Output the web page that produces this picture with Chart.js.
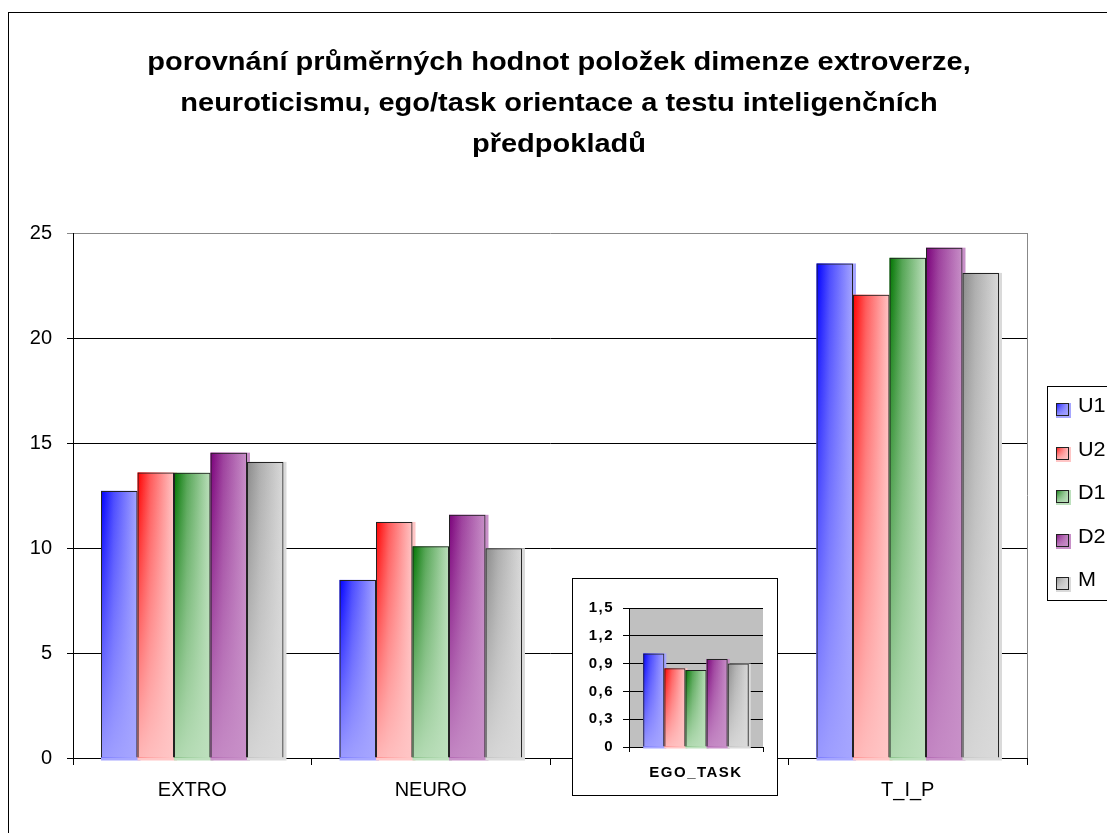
<!DOCTYPE html>
<html>
<head>
<meta charset="utf-8">
<script src="https://cdn.jsdelivr.net/npm/chart.js@4/dist/chart.umd.min.js"></script>
<style>
  body { margin: 0; background: #fff; }
  #wrap { position: relative; width: 1107px; height: 833px; overflow: hidden; background: #fff; }
  #main { position: absolute; left: 0; top: 0; }
  #insetBox { position: absolute; left: 572px; top: 578px; width: 204px; height: 216px; border: 1px solid #000; background: #fff; }
  #inset { position: absolute; left: 0; top: 0; }
</style>
</head>
<body>
<div id="wrap">
  <canvas id="main" width="1107" height="833"></canvas>
  <div id="insetBox"><canvas id="inset" width="204" height="216"></canvas></div>
</div>
<script>
// ---- data ----
const titleLines = [
  'porovnání průměrných hodnot položek dimenze extroverze,',
  'neuroticismu, ego/task orientace a testu inteligenčních',
  'předpokladů'
];
const categories = ['EXTRO', 'NEURO', 'EGO_TASK', 'T_I_P'];
const insetCategory = 'EGO_TASK';
const seriesNames = ['U1', 'U2', 'D1', 'D2', 'M'];
const U1 = [12.72, 8.48, 1.01, 23.55];
const U2 = [13.60, 11.24, 0.85, 22.06];
const D1 = [13.58, 10.08, 0.83, 23.82];
const D2 = [14.54, 11.58, 0.95, 24.30];
const M  = [14.10, 9.99, 0.90, 23.10];
const mainTicks = [0, 5, 10, 15, 20, 25];
const insetTicks = ['0', '0,3', '0,6', '0,9', '1,2', '1,5'];

const seriesValues = [U1, U2, D1, D2, M];
const darkColors  = ['#0000ff', '#ff0000', '#007400', '#7a007a', '#8a8a8a'];
const lightColors = ['#a6a6ff', '#ffc6c6', '#bde0bd', '#c890c8', '#dadada'];
const FONT = '"Liberation Sans", Arial, Helvetica, sans-serif';
const egoIndex = categories.indexOf(insetCategory);

// ---- colour helpers ----
function hexRgb(h) { const n = parseInt(h.slice(1), 16); return [(n >> 16) & 255, (n >> 8) & 255, n & 255]; }
function mix(a, b, t) { const A = hexRgb(a), B = hexRgb(b); return 'rgb(' + A.map((v, i) => Math.round(v + (B[i] - v) * t)).join(',') + ')'; }
function alpha(h, a) { const A = hexRgb(h); return 'rgba(' + A[0] + ',' + A[1] + ',' + A[2] + ',' + a + ')'; }

// shaded column: drop shadow, left-to-right sheen, fading to pale at the foot
function paintBar(ctx, l, t, r, b, dark, light, sh) {
  const w = r - l, h = b - t;
  if (h <= 0 || w <= 0) return;
  ctx.fillStyle = light;
  ctx.fillRect(l, t, w + sh, h + sh);
  const g = ctx.createLinearGradient(l, 0, r, 0);
  g.addColorStop(0, dark);
  g.addColorStop(0.35, mix(dark, light, 0.45));
  g.addColorStop(1, light);
  ctx.fillStyle = g;
  ctx.fillRect(l, t, w, h);
  const v = ctx.createLinearGradient(0, t, 0, b);
  v.addColorStop(0, alpha(light, 0));
  v.addColorStop(1, alpha(light, 0.92));
  ctx.fillStyle = v;
  ctx.fillRect(l, t, w, h);
}

// paints the shaded fill of every bar; Chart.js then strokes the outlines on top
const shadePlugin = {
  id: 'shade',
  beforeDatasetsDraw(chart, args, opts) {
    const ctx = chart.ctx;
    ctx.save();
    chart.data.datasets.forEach((ds, i) => {
      chart.getDatasetMeta(i).data.forEach(el => {
        const p = el.getProps(['x', 'y', 'base', 'width'], true);
        paintBar(ctx, p.x - p.width / 2, p.y, p.x + p.width / 2, p.base, darkColors[i], lightColors[i], opts.shadow || 0);
      });
    });
    ctx.restore();
  }
};

// frame, plot border, title and legend of the main chart
const decorPlugin = {
  id: 'decor',
  afterDraw(chart) {
    const ctx = chart.ctx;
    const a = chart.chartArea;
    ctx.save();
    // right border of plot area
    ctx.strokeStyle = '#888';
    ctx.lineWidth = 1;
    ctx.beginPath();
    ctx.moveTo(Math.round(a.right) + 0.5, a.top);
    ctx.lineTo(Math.round(a.right) + 0.5, a.bottom);
    ctx.stroke();
    // outer frame
    ctx.strokeStyle = '#000';
    ctx.strokeRect(8.5, 12.5, 1300, 1000);
    // title
    ctx.fillStyle = '#000';
    ctx.font = 'bold 25px ' + FONT;
    ctx.textAlign = 'center';
    ctx.textBaseline = 'alphabetic';
    titleLines.forEach((line, k) => {
      ctx.save();
      ctx.translate(559, 70 + k * 40.8);
      ctx.scale(1.16, 1);
      ctx.fillText(line, 0, 0);
      ctx.restore();
    });
    // legend
    ctx.strokeStyle = '#000';
    ctx.strokeRect(1047.5, 386.5, 200, 214);
    ctx.font = '20px ' + FONT;
    ctx.textAlign = 'left';
    ctx.textBaseline = 'middle';
    seriesNames.forEach((name, i) => {
      const cy = 409.5 + i * 43.5;
      const x = 1056, y = Math.round(cy - 6.5);
      paintBar(ctx, x, y, x + 13, y + 13, darkColors[i], lightColors[i], 2);
      ctx.strokeStyle = '#222';
      ctx.strokeRect(x + 0.5, y + 0.5, 12, 12);
      ctx.fillStyle = '#000';
      ctx.save();
      ctx.translate(1078, cy - 3);
      ctx.scale(1.08, 1);
      ctx.fillText(name, 0, 0);
      ctx.restore();
    });
    ctx.restore();
  }
};

// grey plot background for the inset
const plotBgPlugin = {
  id: 'plotBg',
  beforeDraw(chart, args, opts) {
    const a = chart.chartArea;
    const ctx = chart.ctx;
    ctx.save();
    ctx.fillStyle = opts.color;
    ctx.fillRect(a.left, a.top, a.right - a.left, a.bottom - a.top);
    ctx.restore();
    ctx.letterSpacing = opts.spacing || '0px';
  }
};

function makeDatasets(pick, catPct) {
  return seriesNames.map((name, i) => ({
    label: name,
    data: pick(seriesValues[i]),
    backgroundColor: 'rgba(0,0,0,0)',
    borderColor: '#222',
    borderWidth: 1,
    categoryPercentage: catPct,
    barPercentage: 1
  }));
}

// ---- main chart ----
new Chart(document.getElementById('main'), {
  type: 'bar',
  data: { labels: categories, datasets: makeDatasets(v => v.slice(), 0.765) },
  options: {
    responsive: false,
    animation: false,
    events: [],
    layout: { padding: { left: 13, top: 233, right: 80, bottom: 25 } },
    plugins: {
      legend: { display: false },
      title: { display: false },
      tooltip: { enabled: false },
      shade: { shadow: 3 }
    },
    scales: {
      x: {
        offset: true,
        grid: { display: true, drawOnChartArea: false, color: '#000', tickLength: 7, offset: true },
        border: { color: '#000' },
        ticks: {
          color: '#000',
          font: { family: FONT, size: 20 },
          padding: 13,
          callback: (v, i) => (i === egoIndex ? '' : categories[i])
        },
        afterFit: s => { s.height = 50; }
      },
      y: {
        min: mainTicks[0],
        max: mainTicks[mainTicks.length - 1],
        afterBuildTicks: s => { s.ticks = mainTicks.map(v => ({ value: v })); },
        ticks: { color: '#000', font: { family: FONT, size: 20 }, padding: 15 },
        grid: {
          color: c => (c.tick && c.tick.value === mainTicks[mainTicks.length - 1] ? '#888' : '#000'),
          tickLength: 6
        },
        border: { color: '#000' },
        afterFit: s => { s.width = 60; }
      }
    }
  },
  plugins: [shadePlugin, decorPlugin]
});

// ---- inset chart (small-valued category on its own scale) ----
new Chart(document.getElementById('inset'), {
  type: 'bar',
  data: { labels: [insetCategory], datasets: makeDatasets(v => [v[egoIndex]], 0.788) },
  options: {
    responsive: false,
    animation: false,
    events: [],
    layout: { padding: { left: 0, top: 29, right: 14, bottom: 0 } },
    plugins: {
      legend: { display: false },
      title: { display: false },
      tooltip: { enabled: false },
      shade: { shadow: 2 },
      plotBg: { color: '#c0c0c0', spacing: '1.5px' }
    },
    scales: {
      x: {
        offset: true,
        grid: { display: true, drawOnChartArea: false, color: '#000', tickLength: 5, offset: true },
        border: { color: '#000' },
        ticks: { color: '#000', font: { family: FONT, size: 15, weight: 'bold' }, padding: 12 },
        afterFit: s => { s.height = 48; }
      },
      y: {
        min: 0,
        max: 1.5,
        afterBuildTicks: s => { s.ticks = insetTicks.map(t => ({ value: parseFloat(t.replace(',', '.')) })); },
        ticks: {
          color: '#000',
          font: { family: FONT, size: 15, weight: 'bold' },
          padding: 9,
          callback: (v, i) => insetTicks[i]
        },
        grid: { color: '#000', tickLength: 6 },
        border: { color: '#000' },
        afterFit: s => { s.width = 56; }
      }
    }
  },
  plugins: [plotBgPlugin, shadePlugin]
});
</script>
</body>
</html>
